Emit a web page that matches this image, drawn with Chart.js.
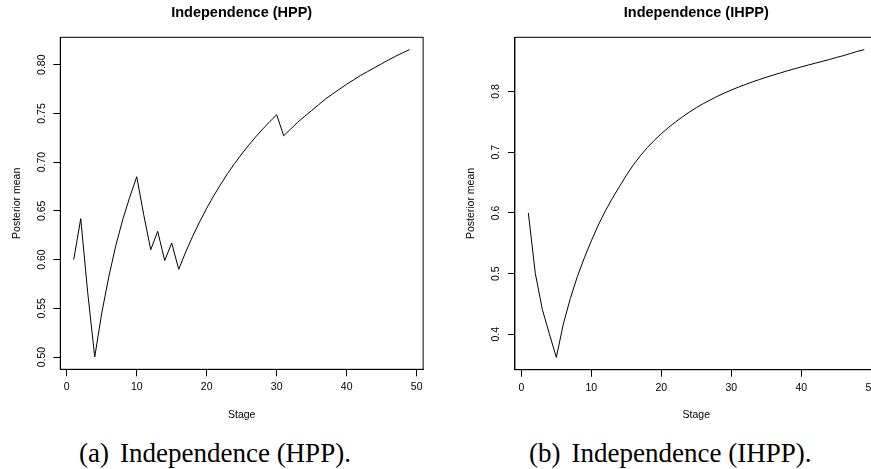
<!DOCTYPE html>
<html>
<head>
<meta charset="utf-8">
<script src="https://cdn.jsdelivr.net/npm/chart.js@4.4.1/dist/chart.umd.min.js"></script>
<style>
  html, body { margin: 0; padding: 0; background: #fff; }
  body { width: 871px; height: 469px; overflow: hidden; position: relative; }
  canvas { position: absolute; top: 0; }
  #hppChart { left: 0; }
  #ihppChart { left: 435px; }
  .cap { position: absolute; top: 440px; font-family: 'Liberation Serif', 'Times New Roman', serif;
         font-size: 27px; line-height: 27px; color: #000; white-space: nowrap; }
  .cap b { font-weight: normal; margin-right: 11px; }
</style>
</head>
<body>
<canvas id="hppChart" width="435" height="430"></canvas>
<canvas id="ihppChart" width="450" height="430"></canvas>
<div class="cap" style="left:79px"><b>(a)</b>Independence (HPP).</div>
<div class="cap" style="left:529px"><b>(b)</b>Independence (IHPP).</div>
<script>
const stage = [1, 2, 3, 4, 5, 6, 7, 8, 9, 10, 11, 12, 13, 14, 15, 16, 17, 18, 19, 20,
  21, 22, 23, 24, 25, 26, 27, 28, 29, 30, 31, 32, 33, 34, 35, 36, 37, 38, 39, 40,
  41, 42, 43, 44, 45, 46, 47, 48, 49];

const hppMean = [0.600, 0.642, 0.566, 0.500, 0.545, 0.582, 0.614, 0.641, 0.664, 0.685,
  0.646, 0.610, 0.629, 0.599, 0.617, 0.590, 0.6078, 0.6240, 0.6389, 0.6527,
  0.6654, 0.6773, 0.6884, 0.6987, 0.7083, 0.7174, 0.7259, 0.7339, 0.7415, 0.7486,
  0.727, 0.734, 0.741, 0.747, 0.753, 0.759, 0.765, 0.770, 0.775, 0.780,
  0.7845, 0.789, 0.793, 0.797, 0.801, 0.805, 0.8087, 0.8122, 0.8155];

const ihppMean = [0.600, 0.500, 0.441, 0.401, 0.362, 0.417, 0.459, 0.495, 0.526, 0.554,
  0.580, 0.603, 0.624, 0.643, 0.662, 0.679, 0.694, 0.7075, 0.7195, 0.7305,
  0.7405, 0.7495, 0.758, 0.766, 0.7733, 0.780, 0.7862, 0.792, 0.7974, 0.8024,
  0.8071, 0.8115, 0.8157, 0.8197, 0.8235, 0.8271, 0.8306, 0.834, 0.8373, 0.8405,
  0.8436, 0.8466, 0.8496, 0.8527, 0.856, 0.859, 0.8625, 0.866, 0.869];

const xTicks = [0, 10, 20, 30, 40, 50];
const hppYTicks = [0.50, 0.55, 0.60, 0.65, 0.70, 0.75, 0.80];
const ihppYTicks = [0.4, 0.5, 0.6, 0.7, 0.8];

const FONT = "'Liberation Sans', Arial, Helvetica, sans-serif";

// R pads the data range by 4% on each side
function padRange(vals) {
  const lo = Math.min(...vals), hi = Math.max(...vals), d = (hi - lo) * 0.04;
  return [lo - d, hi + d];
}

// vertical y tick labels (R style) + box round the plot region
const rStyle = {
  id: 'rStyle',
  afterDraw(chart, args, opts) {
    const { ctx, chartArea, scales } = chart;
    ctx.save();
    ctx.fillStyle = '#000';
    ctx.font = '10.5px ' + FONT;
    ctx.textAlign = 'center';
    ctx.textBaseline = 'middle';
    scales.y.ticks.forEach(t => {
      ctx.save();
      ctx.translate(chartArea.left - 18.3, scales.y.getPixelForValue(t.value));
      ctx.rotate(-Math.PI / 2);
      ctx.fillText(t.value.toFixed(opts.digits), 0, 0);
      ctx.restore();
    });
    ctx.strokeStyle = '#000';
    ctx.lineWidth = 1;
    ctx.strokeRect(chartArea.left, chartArea.top, chartArea.right - chartArea.left, chartArea.bottom - chartArea.top);
    ctx.restore();
  }
};

function makeChart(id, title, values, yTicks, digits, yWidth, rightPad, xHeight, yTitlePad) {
  const xr = padRange(stage);
  const yr = padRange(values);
  return new Chart(document.getElementById(id), {
    type: 'line',
    data: {
      datasets: [{
        data: stage.map((s, i) => ({ x: s, y: values[i] })),
        borderColor: '#000',
        borderWidth: 1,
        pointRadius: 0,
        tension: 0,
        fill: false
      }]
    },
    options: {
      responsive: false,
      animation: false,
      events: [],
      layout: { autoPadding: false, padding: { left: 0, top: 0, right: rightPad, bottom: 0 } },
      plugins: {
        legend: { display: false },
        tooltip: { enabled: false },
        title: {
          display: true, text: title, color: '#000', fullSize: false,
          font: { family: FONT, size: 14.5, weight: 'bold', lineHeight: 1.2 },
          padding: { top: 3.8, bottom: 16.1 }
        },
        rStyle: { digits: digits }
      },
      scales: {
        x: {
          type: 'linear', min: xr[0], max: xr[1],
          afterBuildTicks: s => { s.ticks = xTicks.map(v => ({ value: v })); },
          afterFit: s => { s.height = xHeight; },
          grid: { drawOnChartArea: false, drawTicks: true, tickLength: 7, color: '#000', lineWidth: 1 },
          border: { display: true, color: '#000', width: 1 },
          ticks: { color: '#000', font: { family: FONT, size: 10.5 }, padding: 5, maxRotation: 0, autoSkip: false },
          title: { display: true, text: 'Stage', color: '#000', font: { family: FONT, size: 10.5, lineHeight: 1.2 },
                   padding: { top: 0, bottom: 8.7 } }
        },
        y: {
          type: 'linear', min: yr[0], max: yr[1],
          afterBuildTicks: s => { s.ticks = yTicks.map(v => ({ value: v })); },
          afterFit: s => { s.width = yWidth; },
          grid: { drawOnChartArea: false, drawTicks: true, tickLength: 7, color: '#000', lineWidth: 1 },
          border: { display: true, color: '#000', width: 1 },
          ticks: { display: false },
          title: { display: true, text: 'Posterior mean', color: '#000', font: { family: FONT, size: 10.5, lineHeight: 1.2 },
                   padding: { top: yTitlePad, bottom: 0 } }
        }
      }
    },
    plugins: [rStyle]
  });
}

makeChart('hppChart', 'Independence (HPP)', hppMean, hppYTicks, 2, 60.3, 11.9, 60.7, 10.4);
makeChart('ihppChart', 'Independence (IHPP)', ihppMean, ihppYTicks, 1, 79.9, 7.3, 60.3, 29.5);
</script>
</body>
</html>
